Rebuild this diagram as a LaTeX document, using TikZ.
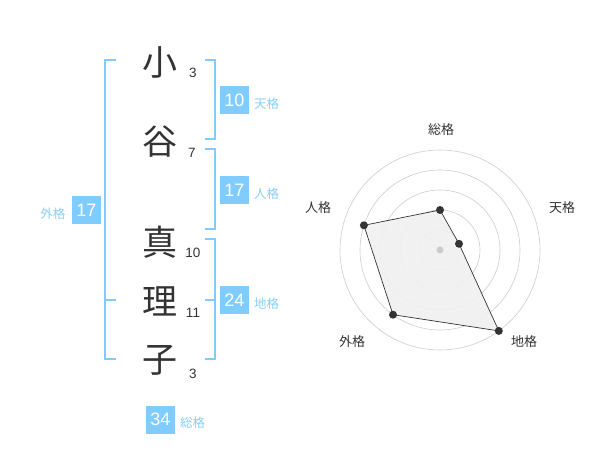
\documentclass[tikz,border=0pt]{standalone}
\usepackage{fontspec}
\setmainfont{Liberation Sans}
\newfontfamily\cjk{Noto Sans CJK JP}
\definecolor{bblue}{RGB}{128,204,255}
\definecolor{lblue}{RGB}{135,206,250}
\definecolor{dgray}{RGB}{51,51,51}
\definecolor{cgray}{RGB}{204,204,204}
\begin{document}
\begin{tikzpicture}[x=1pt,y=-1pt,
  kanji/.style={font=\cjk\fontsize{35}{35}\selectfont, text=dgray, inner sep=0pt},
  strokes/.style={font=\fontsize{13.5}{13.5}\selectfont, text=dgray, inner sep=0pt},
  valbox/.style={fill=bblue, text=white, minimum width=29pt, minimum height=28pt, inner sep=0pt, font=\fontsize{18}{18}\selectfont},
  vallabel/.style={font=\cjk\fontsize{12.5}{12.5}\selectfont, text=lblue, inner sep=0pt},
  brk/.style={draw=bblue, line width=2pt},
  ring/.style={draw=cgray, line width=0.6pt},
  axlabel/.style={font=\cjk\fontsize{13}{13}\selectfont, text=dgray, inner sep=0pt},
  pt/.style={circle, fill=dgray, minimum size=8pt, inner sep=0pt}
]
\useasboundingbox (0,0) rectangle (600,470);
% kanji
\node[kanji] (k1) at (160,62) {小};
\node[kanji] (k2) at (160,142) {谷};
\node[kanji] (k3) at (160,242) {真};
\node[kanji] (k4) at (160,301) {理};
\node[kanji] (k5) at (160,360) {子};
% stroke numbers
\node[strokes] (s1) at (193,73) {3};
\node[strokes] (s2) at (192,153) {7};
\node[strokes] (s3) at (193,253) {10};
\node[strokes] (s4) at (193,313) {11};
\node[strokes] (s5) at (193,374) {3};
% brackets
\draw[brk] (116,60) -- (105,60) -- (105,359.5) -- (116,359.5);
\draw[brk] (105,300) -- (116,300);
\draw[brk] (205,60) -- (214.5,60) -- (214.5,139.5) -- (205,139.5);
\draw[brk] (205,149.5) -- (214.5,149.5) -- (214.5,229.5) -- (205,229.5);
\draw[brk] (205,239.5) -- (214.5,239.5) -- (214.5,359.5) -- (205,359.5);
\draw[brk] (205,300) -- (214.5,300);
% value boxes
\node[valbox] (ten) at (234.5,100) {10};
\node[vallabel, anchor=west] (tenl) at (254,104) {天格};
\node[valbox] (jin) at (234.5,190) {17};
\node[vallabel, anchor=west] (jinl) at (254,194) {人格};
\node[valbox] (chi) at (234.5,300) {24};
\node[vallabel, anchor=west] (chil) at (254,304) {地格};
\node[valbox] (gai) at (86.5,210) {17};
\node[vallabel, anchor=east] (gail) at (65.5,214) {外格};
\node[valbox] (sou) at (160.5,419.5) {34};
\node[vallabel, anchor=west] (soul) at (180,423) {総格};
% radar
\coordinate (c) at (440,250);
\foreach \r in {20,40,60,80,100} \draw[ring] (c) circle[radius=\r];
\path (c) ++(0,-40) coordinate (pA);
\path (c) ++(19.0,-6.2) coordinate (pB);
\path (c) ++(58.8,80.9) coordinate (pC);
\path (c) ++(-47.0,64.7) coordinate (pD);
\path (c) ++(-76.1,-24.7) coordinate (pE);
\draw[dgray, line width=0.7pt, fill=black!6, fill opacity=0.9] (pA) -- (pB) -- (pC) -- (pD) -- (pE) -- cycle;
\node[circle, fill=cgray, minimum size=7pt, inner sep=0pt] (cd) at (c) {};
\foreach \p in {pA,pB,pC,pD,pE} \node[pt] at (\p) {};
\node[axlabel] (la) at (441,130) {総格};
\node[axlabel] (lb) at (562,208) {天格};
\node[axlabel] (lc) at (524,342) {地格};
\node[axlabel] (ld) at (352,342) {外格};
\node[axlabel] (le) at (318,208) {人格};
\end{tikzpicture}
\end{document}
